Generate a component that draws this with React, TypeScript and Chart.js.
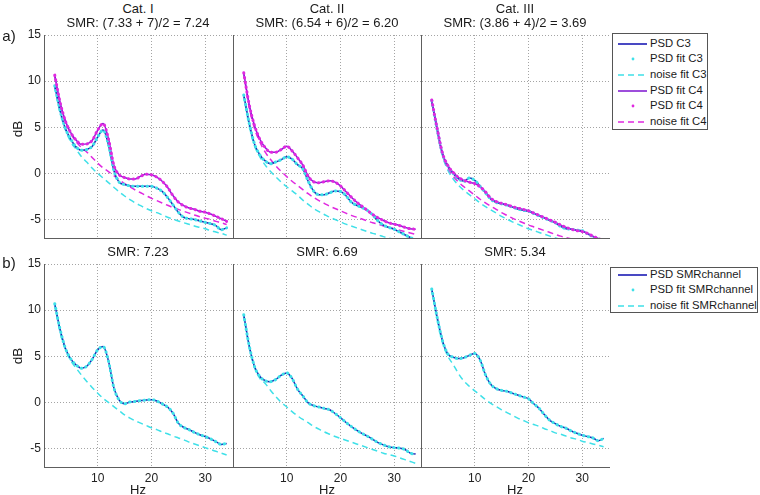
import React, { useEffect, useRef } from "react";
import { Chart, registerables } from "chart.js";
Chart.register(...registerables);

const FONT = "'Liberation Sans', Arial, Helvetica, sans-serif";
Chart.defaults.font.family = FONT;
Chart.defaults.color = "#222";

// ---------- data (frequency grid in Hz) ----------
const freqs = [2, 3, 4, 5, 6, 7, 8, 9, 10, 11, 12, 13, 14, 15, 16, 17, 18, 19, 20, 21, 22, 23, 24, 25, 26, 27, 28, 29, 30, 31, 32, 33, 34];

const xTickValues = [10, 20, 30];
const yTickValues = [15, 10, 5, 0, -5];

// Row a) Cat. I
const psdC3_cat1 = [9.5, 6.8, 4.85, 3.7, 2.85, 2.5, 2.6, 2.95, 3.95, 4.7, 3.1, 0.33, -0.95, -1.2, -1.35, -1.4, -1.4, -1.4, -1.4, -1.6, -1.95, -2.6, -3.4, -4.2, -4.75, -4.9, -5.0, -5.15, -5.3, -5.45, -5.65, -6.1, -5.9];
const psdC4_cat1 = [10.65, 7.7, 5.65, 4.4, 3.6, 3.15, 3.2, 3.6, 4.7, 5.4, 3.75, 0.9, -0.15, -0.45, -0.6, -0.6, -0.3, -0.1, -0.15, -0.4, -0.85, -1.5, -2.4, -3.1, -3.5, -3.75, -3.9, -4.1, -4.2, -4.4, -4.65, -4.9, -5.2];
const noiseC3_cat1 = [9.4, 6.6, 4.7, 3.4, 2.6, 1.8, 1.2, 0.55, 0.0, -0.5, -1.0, -1.5, -2.0, -2.45, -2.85, -3.2, -3.5, -3.8, -4.05, -4.25, -4.5, -4.75, -4.95, -5.15, -5.35, -5.5, -5.7, -5.85, -6.0, -6.2, -6.35, -6.5, -6.7];
const noiseC4_cat1 = [10.5, 7.5, 5.6, 4.3, 3.4, 2.8, 2.3, 1.7, 1.1, 0.6, 0.2, -0.25, -0.7, -1.1, -1.45, -1.8, -2.1, -2.4, -2.7, -2.95, -3.2, -3.45, -3.7, -3.9, -4.1, -4.3, -4.5, -4.7, -4.85, -5.0, -5.2, -5.35, -5.55];

// Row a) Cat. II
const psdC3_cat2 = [8.5, 5.5, 3.2, 2.0, 1.35, 1.05, 1.25, 1.5, 1.8, 1.55, 0.95, 0.5, -0.85, -1.9, -2.3, -2.3, -2.1, -1.9, -1.95, -2.4, -3.1, -3.45, -3.7, -4.0, -4.5, -5.15, -5.6, -5.85, -6.05, -6.35, -6.65, -6.95, -7.2];
const psdC4_cat2 = [10.9, 7.5, 5.2, 3.7, 2.8, 2.3, 2.3, 2.6, 2.95, 2.45, 1.7, 0.9, -0.3, -0.9, -1.0, -0.9, -0.8, -0.95, -1.35, -1.95, -2.55, -3.1, -3.55, -4.0, -4.45, -4.8, -5.1, -5.35, -5.5, -5.65, -5.85, -6.0, -6.05];
const noiseC3_cat2 = [8.4, 5.2, 3.0, 1.8, 0.9, 0.2, -0.4, -0.95, -1.45, -1.9, -2.35, -2.9, -3.35, -3.8, -4.15, -4.45, -4.75, -5.0, -5.25, -5.5, -5.7, -5.9, -6.1, -6.3, -6.5, -6.65, -6.85, -7.0, -7.15, -7.3, -7.45, -7.6, -7.75];
const noiseC4_cat2 = [10.8, 7.2, 4.9, 3.4, 2.3, 1.5, 0.8, 0.2, -0.35, -0.85, -1.3, -1.75, -2.2, -2.6, -2.95, -3.25, -3.55, -3.8, -4.05, -4.3, -4.55, -4.75, -4.95, -5.15, -5.35, -5.5, -5.7, -5.85, -6.0, -6.15, -6.3, -6.45, -6.6];

// Row a) Cat. III
const psdC3_cat3 = [7.9, 4.8, 2.1, 0.8, 0.0, -0.6, -0.85, -0.5, -0.75, -1.4, -2.1, -2.8, -3.15, -3.3, -3.45, -3.65, -3.85, -4.0, -4.1, -4.35, -4.6, -4.85, -5.1, -5.35, -5.75, -6.0, -6.05, -6.15, -6.2, -6.55, -6.85, -7.1, -7.3];
const psdC4_cat3 = [7.95, 4.9, 2.2, 0.85, 0.1, -0.45, -0.75, -0.95, -1.1, -1.45, -2.0, -2.7, -3.05, -3.25, -3.4, -3.6, -3.75, -3.9, -4.05, -4.3, -4.55, -4.8, -5.05, -5.3, -5.6, -5.85, -6.05, -6.2, -6.3, -6.5, -6.8, -7.05, -7.3];
const noiseC3_cat3 = [7.8, 4.6, 1.9, 0.35, -0.6, -1.3, -1.85, -2.3, -2.75, -3.2, -3.6, -3.95, -4.3, -4.65, -4.95, -5.25, -5.5, -5.75, -6.0, -6.2, -6.4, -6.6, -6.8, -7.0, -7.15, -7.3, -7.45, -7.6, -7.75, -7.9, -8.0, -8.15, -8.3];
const noiseC4_cat3 = [7.9, 4.8, 2.1, 0.6, -0.3, -0.95, -1.45, -1.9, -2.35, -2.8, -3.2, -3.55, -3.9, -4.25, -4.55, -4.85, -5.1, -5.35, -5.6, -5.8, -6.0, -6.2, -6.4, -6.6, -6.8, -6.95, -7.1, -7.25, -7.4, -7.55, -7.7, -7.8, -7.95];

// Row b) SMR channel
const psdSMR_1 = [10.7, 7.9, 5.85, 4.7, 4.05, 3.7, 3.95, 4.7, 5.7, 6.05, 4.5, 1.6, 0.25, -0.15, 0.05, 0.1, 0.2, 0.25, 0.3, 0.15, -0.15, -0.5, -1.15, -2.25, -2.7, -2.95, -3.25, -3.5, -3.7, -3.95, -4.25, -4.55, -4.45];
const noiseSMR_1 = [10.6, 7.6, 5.7, 4.5, 3.7, 2.95, 2.25, 1.6, 1.0, 0.45, 0.0, -0.45, -0.9, -1.35, -1.7, -2.0, -2.25, -2.5, -2.75, -2.95, -3.2, -3.4, -3.65, -3.85, -4.05, -4.3, -4.5, -4.7, -4.9, -5.1, -5.3, -5.5, -5.7];
const psdSMR_2 = [9.5, 6.2, 3.9, 2.8, 2.35, 2.25, 2.5, 2.95, 3.2, 2.6, 1.45, 0.7, -0.05, -0.35, -0.5, -0.65, -0.8, -1.2, -1.65, -2.15, -2.6, -3.0, -3.35, -3.65, -4.0, -4.35, -4.6, -4.8, -4.9, -4.95, -5.1, -5.5, -5.6];
const noiseSMR_2 = [9.4, 6.0, 3.8, 2.6, 2.05, 1.3, 0.6, 0.0, -0.5, -1.0, -1.45, -1.85, -2.2, -2.6, -2.9, -3.2, -3.45, -3.7, -3.9, -4.1, -4.3, -4.5, -4.7, -4.9, -5.1, -5.3, -5.5, -5.65, -5.8, -6.0, -6.2, -6.4, -6.6];
const psdSMR_3 = [12.3, 9.25, 6.7, 5.25, 4.9, 4.75, 4.85, 5.1, 5.3, 4.6, 3.0, 1.95, 1.5, 1.3, 1.2, 1.0, 0.8, 0.6, 0.4, -0.15, -0.65, -1.35, -1.95, -2.3, -2.6, -2.8, -3.1, -3.35, -3.55, -3.7, -3.85, -4.15, -3.9];
const noiseSMR_3 = [12.2, 9.0, 6.5, 5.0, 4.1, 3.1, 2.3, 1.75, 1.25, 0.8, 0.3, -0.1, -0.45, -0.8, -1.1, -1.4, -1.7, -1.95, -2.2, -2.4, -2.6, -2.85, -3.05, -3.3, -3.45, -3.65, -3.85, -4.0, -4.2, -4.35, -4.5, -4.65, -4.8];

const catTitles = ["Cat. I", "Cat. II", "Cat. III"];
const topSMRTitles = ["SMR: (7.33 + 7)/2 = 7.24", "SMR: (6.54 + 6)/2 = 6.20", "SMR: (3.86 + 4)/2 = 3.69"];
const bottomSMRTitles = ["SMR: 7.23", "SMR: 6.69", "SMR: 5.34"];

// ---------- styles ----------
const BLUE = "#1c1cb4";
const CYAN = "#3fe0e8";
const PURPLE = "#8420d2";
const MAGENTA = "#e028e0";
const AXIS = "#5e5e5e";
const GRID = "#a4a4a4";

type Kind = "line" | "dots" | "dash";
type Series = { label: string; values: number[]; kind: Kind; color: string };

// dataset index 0 is drawn on top
const topSeries = (c3: number[], c4: number[], n3: number[], n4: number[]): Series[] => [
  { label: "PSD fit C4 ", values: c4, kind: "dots", color: MAGENTA },
  { label: "PSD fit C3", values: c3, kind: "dots", color: CYAN },
  { label: "PSD fit C4", values: c4, kind: "line", color: PURPLE },
  { label: "PSD C3", values: c3, kind: "line", color: BLUE },
  { label: "noise fit C4", values: n4, kind: "dash", color: MAGENTA },
  { label: "noise fit C3", values: n3, kind: "dash", color: CYAN },
];
const bottomSeries = (p: number[], n: number[]): Series[] => [
  { label: "PSD fit SMRchannel", values: p, kind: "dots", color: CYAN },
  { label: "PSD SMRchannel", values: p, kind: "line", color: BLUE },
  { label: "noise fit SMRchannel", values: n, kind: "dash", color: CYAN },
];

type PanelProps = {
  left: number; top: number; width: number; height: number;
  series: Series[]; yTicks: boolean; xTicks: boolean;
};

function Panel({ left, top, width, height, series, yTicks, xTicks }: PanelProps) {
  const ref = useRef<HTMLCanvasElement>(null);
  const L = yTicks ? 44 : 2;
  const T = 12;
  const R = 4;
  const B = xTicks ? 26 : 12;
  useEffect(() => {
    if (!ref.current) return;
    const datasets = series.map((s) => ({
      label: s.label,
      data: freqs.map((f, i) => ({ x: f, y: s.values[i] })),
      borderColor: s.color,
      backgroundColor: s.color,
      borderWidth: s.kind === "dots" ? 3 : s.kind === "dash" ? 1.5 : 1.5,
      borderDash: s.kind === "dots" ? [0.5, 4.3] : s.kind === "dash" ? [6, 4] : [],
      borderCapStyle: s.kind === "dots" ? "round" : "butt",
      pointRadius: 0,
      fill: false,
      cubicInterpolationMode: "monotone",
    }));
    const tickFont = { family: FONT, size: 12 };
    const chart = new Chart(ref.current, {
      type: "line",
      data: { datasets } as any,
      options: {
        animation: false,
        responsive: false,
        events: [],
        layout: { padding: { top: T, right: R, left: 0, bottom: 0 } },
        plugins: { legend: { display: false }, tooltip: { enabled: false }, title: { display: false } },
        scales: {
          x: {
            type: "linear",
            min: 0,
            max: 35,
            afterBuildTicks: (s: any) => { s.ticks = xTickValues.map((v) => ({ value: v })); },
            afterFit: (s: any) => { s.height = B; },
            ticks: { display: xTicks, padding: 4, font: tickFont, color: "#222", maxRotation: 0 },
            grid: { color: GRID, drawTicks: false, lineWidth: 1 },
            border: { display: true, color: AXIS, width: 1, dash: [1, 2] },
          },
          y: {
            type: "linear",
            min: -7,
            max: 15,
            afterBuildTicks: (s: any) => { s.ticks = yTickValues.map((v) => ({ value: v })); },
            afterFit: (s: any) => { s.width = L; },
            ticks: { display: yTicks, padding: 3, font: tickFont, color: "#222" },
            grid: { color: GRID, drawTicks: false, lineWidth: 1 },
            border: { display: true, color: AXIS, width: 1, dash: [1, 2] },
          },
        },
      } as any,
    });
    return () => chart.destroy();
  }, []);
  const w = width + L + R;
  const h = height + T + B;
  return (
    <canvas
      ref={ref}
      width={w}
      height={h}
      style={{ position: "absolute", left: left - L, top: top - T, width: w, height: h }}
    />
  );
}

function Text({ x, y, size, children, rotate }: { x: number; y: number; size: number; children: React.ReactNode; rotate?: boolean }) {
  return (
    <div
      style={{
        position: "absolute",
        left: x,
        top: y,
        transform: `translate(-50%, -50%)${rotate ? " rotate(-90deg)" : ""}`,
        fontSize: size,
        lineHeight: 1,
        whiteSpace: "nowrap",
        color: "#1a1a1a",
        fontFamily: FONT,
      }}
    >
      {children}
    </div>
  );
}

type LegendEntry = { label: string; kind: "line" | "dot" | "dash"; color: string };

const topLegend: LegendEntry[] = [
  { label: "PSD C3", kind: "line", color: BLUE },
  { label: "PSD fit C3", kind: "dot", color: CYAN },
  { label: "noise fit C3", kind: "dash", color: CYAN },
  { label: "PSD fit C4", kind: "line", color: PURPLE },
  { label: "PSD fit C4", kind: "dot", color: MAGENTA },
  { label: "noise fit C4", kind: "dash", color: MAGENTA },
];
const bottomLegend: LegendEntry[] = [
  { label: "PSD SMRchannel", kind: "line", color: BLUE },
  { label: "PSD fit SMRchannel", kind: "dot", color: CYAN },
  { label: "noise fit SMRchannel", kind: "dash", color: CYAN },
];

function Legend({ left, top, width, height, entries, first, step, sampleX, textX }: {
  left: number; top: number; width: number; height: number; entries: LegendEntry[];
  first: number; step: number; sampleX: number; textX: number;
}) {
  return (
    <div
      style={{
        position: "absolute", left, top, width, height, boxSizing: "border-box",
        border: "1px solid #555", background: "#fff", fontFamily: FONT,
      }}
    >
      {entries.map((e, i) => {
        const cy = first + i * step;
        return (
          <React.Fragment key={i}>
            <svg style={{ position: "absolute", left: sampleX, top: cy - 5 }} width={30} height={10}>
              {e.kind === "line" && <line x1={0} y1={5} x2={29} y2={5} stroke={e.color} strokeWidth={1.6} />}
              {e.kind === "dash" && <line x1={0} y1={5} x2={29} y2={5} stroke={e.color} strokeWidth={1.6} strokeDasharray="6 4" />}
              {e.kind === "dot" && <circle cx={15} cy={5} r={1.4} fill={e.color} />}
            </svg>
            <div
              style={{
                position: "absolute", left: textX, top: cy, transform: "translateY(-50%)",
                fontSize: 11.3, lineHeight: 1, whiteSpace: "nowrap", color: "#1a1a1a",
              }}
            >
              {e.label}
            </div>
          </React.Fragment>
        );
      })}
    </div>
  );
}

const panelLefts = [44, 233, 421];
const panelCenters = [138, 327, 515];
const PW = 188;
const PH = 203;
const TOP_Y = 35;
const BOT_Y = 264;

export default function App() {
  const topData = [
    topSeries(psdC3_cat1, psdC4_cat1, noiseC3_cat1, noiseC4_cat1),
    topSeries(psdC3_cat2, psdC4_cat2, noiseC3_cat2, noiseC4_cat2),
    topSeries(psdC3_cat3, psdC4_cat3, noiseC3_cat3, noiseC4_cat3),
  ];
  const bottomData = [
    bottomSeries(psdSMR_1, noiseSMR_1),
    bottomSeries(psdSMR_2, noiseSMR_2),
    bottomSeries(psdSMR_3, noiseSMR_3),
  ];
  return (
    <div style={{ position: "absolute", left: 0, top: 0, width: 760, height: 495, background: "#fff", overflow: "hidden", fontFamily: FONT }}>
      {topData.map((s, i) => (
        <Panel key={"t" + i} left={panelLefts[i]} top={TOP_Y} width={PW} height={PH} series={s} yTicks={i === 0} xTicks={false} />
      ))}
      {bottomData.map((s, i) => (
        <Panel key={"b" + i} left={panelLefts[i]} top={BOT_Y} width={PW} height={PH} series={s} yTicks={i === 0} xTicks={true} />
      ))}
      {panelCenters.map((cx, i) => (
        <React.Fragment key={"title" + i}>
          <Text x={cx} y={8} size={13}>{catTitles[i]}</Text>
          <Text x={cx} y={22} size={13}>{topSMRTitles[i]}</Text>
          <Text x={cx} y={251} size={13}>{bottomSMRTitles[i]}</Text>
          <Text x={cx} y={489} size={13}>Hz</Text>
        </React.Fragment>
      ))}
      <Text x={9} y={35} size={15}>a)</Text>
      <Text x={9} y={262} size={15}>b)</Text>
      <Text x={18} y={129} size={13.5} rotate>dB</Text>
      <Text x={18} y={356} size={13.5} rotate>dB</Text>
      <Legend left={612} top={33} width={96} height={97} entries={topLegend} first={9.6} step={15.7} sampleX={5} textX={37} />
      <Legend left={610} top={267} width={148} height={46} entries={bottomLegend} first={6.5} step={15.5} sampleX={7} textX={39} />
    </div>
  );
}
